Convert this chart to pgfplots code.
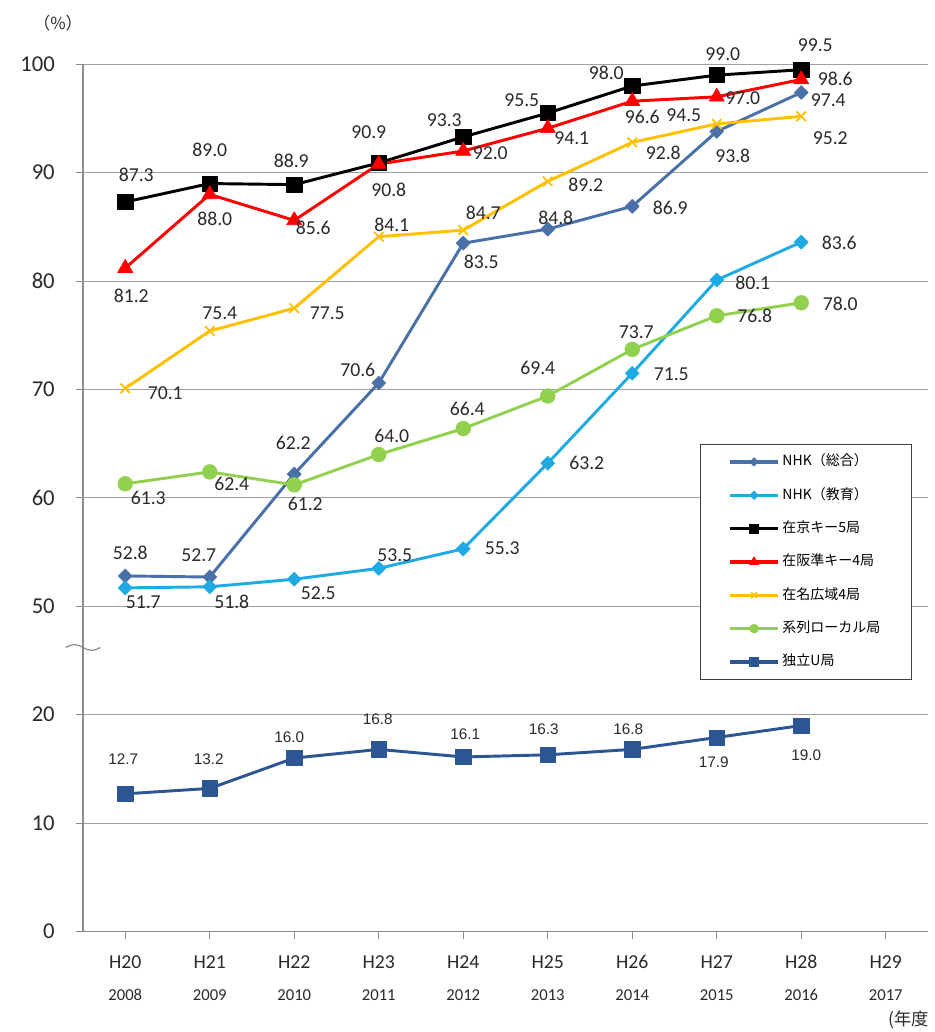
\documentclass[border=0pt]{standalone}
\usepackage{pgfplots}
\pgfplotsset{compat=1.18}
\usepackage{pgfplotstable}
\usepackage{fontspec}
\setmainfont{Carlito}
\newfontfamily\jp{Noto Sans CJK JP}
\newfontfamily\arialf{Liberation Sans}

\definecolor{csogo}{HTML}{4A70A8}
\definecolor{ckyoiku}{HTML}{1FAAE4}
\definecolor{cred}{HTML}{FF0000}
\definecolor{cora}{HTML}{FFC000}
\definecolor{cgreen}{HTML}{92D050}
\definecolor{cu}{HTML}{2C5593}
\definecolor{axisgray}{HTML}{8C8C8C}
\definecolor{gridgray}{HTML}{A0A0A0}
\definecolor{labelc}{HTML}{2A2A2A}
\definecolor{legframe}{HTML}{404040}

\pgfplotstableread{
x v dx dy
0 52.8 5 23
1 52.7 -11 22
2 62.2 -1 31
3 70.6 -21 13
4 83.5 18 -19
5 84.8 8 11
6 86.9 38 -2
7 93.8 16 -24
8 97.4 27 -8
}\tabSogo
\pgfplotstableread{
x v dx dy
0 51.7 18 -14
1 51.8 22 -15
2 52.5 24 -14
3 53.5 16 13
4 55.3 39 1
5 63.2 39 0
6 71.5 39 -1
7 80.1 36 -3
8 83.6 38 -1
}\tabKyoiku
\pgfplotstableread{
x v dx dy
0 87.3 11 27
1 89.0 0 34
2 88.9 -3 24
3 90.9 -10 31
4 93.3 -19 17
5 95.5 -26 13
6 98.0 -26 13
7 99.0 6 21
8 99.5 14 25
}\tabTokyo
\pgfplotstableread{
x v dx dy
0 81.2 6 -28
1 88.0 5 -24
2 85.6 19 -7
3 90.8 10 -26
4 92.0 27 -2
5 94.1 24 -10
6 96.6 10 -16
7 97.0 26 -1
8 98.6 34 1
}\tabOsaka
\pgfplotstableread{
x v dx dy
0 70.1 40 -5
1 75.4 10 18
2 77.5 33 -5
3 84.1 13 12
4 84.7 20 17
5 89.2 38 -3
6 92.8 31 -10
7 94.5 -33 9
8 95.2 29 -22
}\tabNagoya
\pgfplotstableread{
x v dx dy
0 61.3 23 -14
1 62.4 22 -12
2 61.2 11 -19
3 64.0 13 19
4 66.4 4 20
5 69.4 -10 28
6 73.7 4 17
7 76.8 38 0
8 78.0 39 -1
}\tabLocal
\pgfplotstableread{
x v dx dy
0 12.7 -2 35
1 13.2 -1 29
2 16.0 -5 21
3 16.8 -1 30
4 16.1 2 23
5 16.3 -4 26
6 16.8 -4 20
7 17.9 -3 -25
8 19.0 5 -30
}\tabU

\pgfplotsset{
  lblbase/.style={draw=none, mark=none, forget plot, nodes near coords,
    point meta=explicit symbolic,
    visualization depends on={\thisrow{dx}\as\ldx},
    visualization depends on={\thisrow{dy}\as\ldy}},
  lbl/.style={lblbase, nodes near coords style={anchor=center, inner sep=0pt,
    xshift={\ldx*0.75pt}, yshift={\ldy*0.75pt},
    font=\fontsize{14.8}{16}\selectfont, text=labelc}},
  lblu/.style={lblbase, nodes near coords style={anchor=center, inner sep=0pt,
    xshift={\ldx*0.75pt}, yshift={\ldy*0.75pt},
    font=\arialf\fontsize{11.5}{13}\selectfont, text=labelc}},
}

\begin{document}
\begin{tikzpicture}
\begin{axis}[
  at={(0pt,0pt)}, anchor=south west,
  scale only axis, width=633.75pt, height=650.4pt,
  xmin=-0.5, xmax=9.5, ymin=0, ymax=80,
  clip=false,
  axis x line=bottom, axis y line=left,
  axis line style={-, draw=axisgray, line width=0.9pt},
  tick align=outside, major tick length=5.25pt,
  tick style={draw=axisgray, line width=0.8pt},
  xtick={0,...,9},
  xticklabels={H20,H21,H22,H23,H24,H25,H26,H27,H28,H29},
  xticklabel style={anchor=center, inner sep=0pt, yshift=-17.65pt,
    font=\fontsize{14.8}{16}\selectfont, text=labelc},
  extra x ticks={0,...,9},
  extra x tick labels={2008,2009,2010,2011,2012,2013,2014,2015,2016,2017},
  extra x tick style={xticklabel style={yshift=-24.7pt, font=\fontsize{12.5}{14}\selectfont}},
  ytick={0,10,...,80},
  yticklabels={0,10,20,50,60,70,80,90,100},
  yticklabel style={anchor=east, inner sep=0pt, xshift=-15.75pt,
    font=\fontsize{17}{19}\selectfont, text=labelc},
  /pgf/number format/assume math mode=true,
  ymajorgrids, grid style={draw=gridgray, line width=0.8pt},
  every axis plot/.append style={line width=2.2pt, line join=round},
  legend image code/.code={\draw[mark repeat=2, mark phase=2, #1, line width=2.6pt,
      every mark/.append style={scale=0.6}]
      plot coordinates {(0pt,0pt) (18pt,0pt) (36pt,0pt)};},
  legend cell align=left,
  legend style={at={(0.730,0.562)}, anchor=north west,
    draw=legframe, line width=0.75pt, fill=white,
    inner xsep=21pt, inner ysep=6pt, row sep=11pt,
    font=\jp\fontsize{10.5}{12}\selectfont,
    nodes={inner sep=2pt, text height=8pt, text depth=2pt, text width=74pt, align=left},
    /tikz/every even column/.append style={column sep=1pt}},
]
\addplot[color=csogo, mark=square*, mark size=3.7pt, mark options={rotate=45, line width=0.5pt}]
  table[x=x, y expr=\thisrow{v}-20] {\tabSogo};
\addlegendentry{NHK（総合）}
\addplot[color=ckyoiku, mark=square*, mark size=3.7pt, mark options={rotate=45, line width=0.5pt}]
  table[x=x, y expr=\thisrow{v}-20] {\tabKyoiku};
\addlegendentry{NHK（教育）}
\addplot[color=black, mark=square*, mark size=5.7pt, mark options={line width=0.5pt}]
  table[x=x, y expr=\thisrow{v}-20] {\tabTokyo};
\addlegendentry{在京キー5局}
\addplot[color=cred, mark=triangle*, mark size=6.5pt, mark options={line width=0.5pt}]
  table[x=x, y expr=\thisrow{v}-20] {\tabOsaka};
\addlegendentry{在阪準キー4局}
\addplot[color=cora, mark=x, mark size=5pt, mark options={line width=1.3pt}]
  table[x=x, y expr=\thisrow{v}-20] {\tabNagoya};
\addlegendentry{在名広域4局}
\addplot[color=cgreen, mark=*, mark size=5.5pt, mark options={line width=0.5pt}]
  table[x=x, y expr=\thisrow{v}-20] {\tabLocal};
\addlegendentry{系列ローカル局}
\addplot[color=cu, mark=square*, mark size=5.7pt, mark options={line width=0.5pt}]
  table[x=x, y=v] {\tabU};
\addlegendentry{独立U局}

\addplot[lbl] table[x=x, y expr=\thisrow{v}-20, meta=v] {\tabSogo};
\addplot[lbl] table[x=x, y expr=\thisrow{v}-20, meta=v] {\tabKyoiku};
\addplot[lbl] table[x=x, y expr=\thisrow{v}-20, meta=v] {\tabTokyo};
\addplot[lbl] table[x=x, y expr=\thisrow{v}-20, meta=v] {\tabOsaka};
\addplot[lbl] table[x=x, y expr=\thisrow{v}-20, meta=v] {\tabNagoya};
\addplot[lbl] table[x=x, y expr=\thisrow{v}-20, meta=v] {\tabLocal};
\addplot[lblu] table[x=x, y=v, meta=v] {\tabU};

\draw[draw=axisgray, line width=0.9pt] (axis cs:-0.5,26.2) ++(-13pt,0pt)
  sin ++(6.5pt,2.2pt) cos ++(6.5pt,-2.2pt) sin ++(6.5pt,-2.2pt) cos ++(6.5pt,2.2pt);
\end{axis}
\node[font=\jp\fontsize{12.5}{14}\selectfont, text=labelc] at (-18.75pt,681.4pt) {（\%）};
\node[font=\jp\fontsize{13}{15}\selectfont, text=labelc, anchor=west, inner sep=0pt] at (603.75pt,-66.4pt) {(年度};
\pgfresetboundingbox
\path[use as bounding box] (-62.25pt,-75.375pt) rectangle (639pt,698.625pt);
\end{tikzpicture}
\end{document}
